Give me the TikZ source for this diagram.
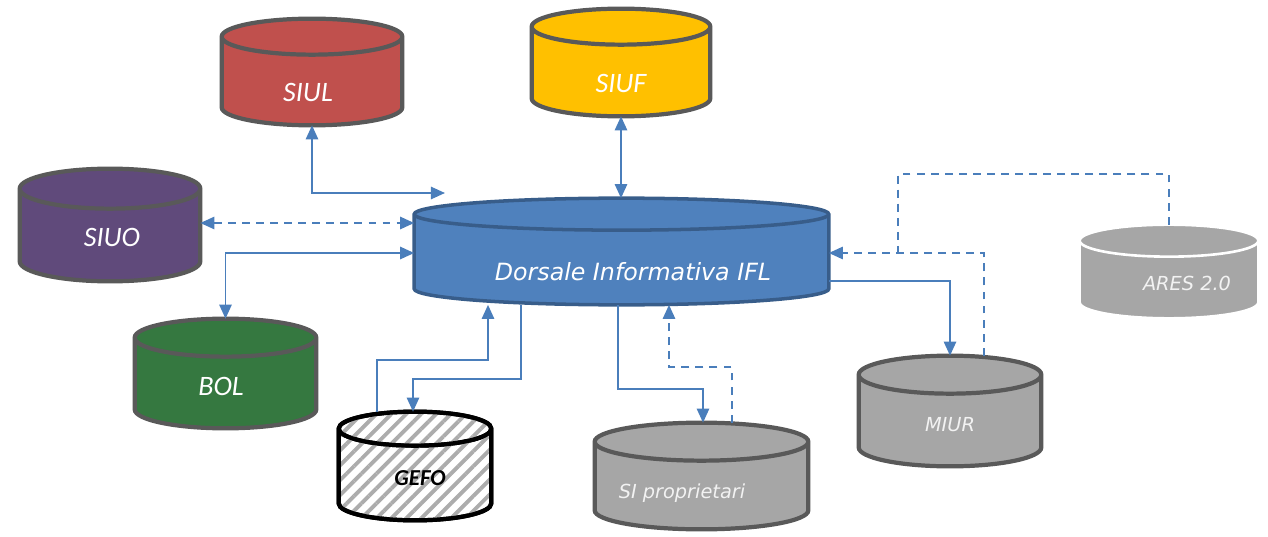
\documentclass[tikz,border=0pt]{standalone}
\usepackage{fontspec}
\setmainfont{Carlito}
\newfontfamily\tahfont{DejaVu Sans}
\usetikzlibrary{calc,arrows.meta,patterns.meta}
\definecolor{siulred}{HTML}{C0504D}
\definecolor{siufyellow}{HTML}{FFC000}
\definecolor{siuopurple}{HTML}{604A7B}
\definecolor{bolgreen}{HTML}{357840}
\definecolor{dorsblue}{HTML}{4F81BD}
\definecolor{dorsedge}{HTML}{385D8A}
\definecolor{dbgray}{HTML}{A6A6A6}
\definecolor{dbedge}{HTML}{595959}
\definecolor{linkblue}{HTML}{4A7EBB}
% cylinder drawn around a named node: name, ellipse radius (px), style
\newcommand\dbbody[3]{%
  \path[#3] let \p1=(#1.north west), \p2=(#1.south east),
      \n1={(\x2-\x1)/2}, \n2={#2*0.02cm} in
    (\x1,\y1-\n2) -- (\x1,\y2+\n2)
      arc[start angle=180, end angle=360, x radius=\n1, y radius=\n2]
      -- (\x2,\y1-\n2)
      arc[start angle=0, end angle=180, x radius=\n1, y radius=\n2] -- cycle
    (\x1,\y1-\n2)
      arc[start angle=180, end angle=360, x radius=\n1, y radius=\n2];
}
\tikzset{
  db/.style={rectangle, inner sep=0pt},
  dbline/.style={draw=dbedge, line width=2.4pt},
  dbtext/.style={text=white, font=\itshape\fontsize{16}{18}\selectfont},
  graytext/.style={text=white!95!black, font=\tahfont\itshape\fontsize{11}{13}\selectfont},
  tip/.style={-{Triangle[width=7pt,length=8pt]}},
  both/.style={{Triangle[width=7pt,length=8pt]}-{Triangle[width=7pt,length=8pt]}},
  link/.style={draw=linkblue, line width=1.1pt},
  dlink/.style={link, dash pattern=on 4.5pt off 3.5pt},
}
\begin{document}
\begin{tikzpicture}[x=0.02cm, y=-0.02cm]
\useasboundingbox (0,0) rectangle (1268,537);

% databases
\node[db, minimum width=3.6cm, minimum height=2.12cm] at (312,72) (siul) {};
\node[db, minimum width=3.56cm, minimum height=2.14cm] at (621,62.5) (siuf) {};
\node[db, minimum width=3.6cm, minimum height=2.24cm] at (110,225) (siuo) {};
\node[db, minimum width=3.62cm, minimum height=2.18cm] at (225.5,373.5) (bol) {};
\node[db, minimum width=3.04cm, minimum height=2.16cm] at (415,466) (gefo) {};
\node[db, minimum width=4.26cm, minimum height=2.12cm] at (701.5,476) (siprop) {};
\node[db, minimum width=3.64cm, minimum height=2.2cm] at (950,411) (miur) {};
\node[db, minimum width=3.56cm, minimum height=1.86cm] at (1169,271.5) (ares) {};
\node[db, minimum width=8.28cm, minimum height=2.12cm] at (621.5,251.5) (dors) {};

\dbbody{siul}{18}{dbline, fill=siulred}
\dbbody{siuf}{18}{dbline, fill=siufyellow}
\dbbody{siuo}{20}{dbline, fill=siuopurple}
\dbbody{bol}{19}{dbline, fill=bolgreen}
\dbbody{gefo}{17}{dbline, draw=black, fill=white}
\dbbody{gefo}{17}{dbline, draw=black, pattern={Lines[angle=45,distance=6pt,line width=2.2pt]}, pattern color=gray!65}
\dbbody{siprop}{19}{dbline, fill=dbgray}
\dbbody{miur}{19}{dbline, fill=dbgray}
\dbbody{ares}{16}{draw=white, line width=1.5pt, fill=dbgray}
\dbbody{dors}{16}{draw=dorsedge, line width=2pt, fill=dorsblue}

% labels
\node[dbtext] at (308,92) (siul-t) {SIUL};
\node[dbtext] at (621,83) (siuf-t) {SIUF};
\node[dbtext] at (112,237) (siuo-t) {SIUO};
\node[dbtext] at (221,386) (bol-t) {BOL};
\node[dbtext, text=black, font=\bfseries\itshape\fontsize{13}{15}\selectfont] at (420,478) (gefo-t) {GEFO};
\node[graytext] at (682,493) (siprop-t) {SI proprietari};
\node[graytext] at (950,425) (miur-t) {MIUR};
\node[graytext] at (1187,283) (ares-t) {ARES 2.0};
\node[text=white, font=\tahfont\itshape\fontsize{13.5}{16}\selectfont] at (633,272) (dors-t) {Dorsale Informativa IFL};

\coordinate (dors-a) at (445,193);
\coordinate (join) at (898,253);

% connectors
\draw[link, both] (siul.south) |- (dors-a);
\draw[link, both] (siuf.south) -- (siuf.south |- dors.north);
\draw[dlink, both] (siuo.east |- 0,223) -- (dors.west |- 0,223);
\draw[link, both] (bol.north) |- (dors.west |- 0,253);
\draw[link, tip] (377,0 |- gefo.north) |- (488,360) -- (488,0 |- dors.south);
\draw[link, tip] (521,0 |- dors.south) |- (413,379) -- (413,0 |- gefo.north);
\draw[link, tip] (618,0 |- dors.south) |- (703,389) -- (703,0 |- siprop.north);
\draw[dlink, tip] (732,0 |- siprop.north) |- (669,367) -- (669,0 |- dors.south);
\draw[link, tip] (dors.east |- 0,281) -| (miur.north);
\draw[dlink, tip] (984,0 |- miur.north) |- (dors.east |- 0,253);
\draw[dlink] (ares.north) |- (898,174) -- (join);

\end{tikzpicture}
\end{document}
